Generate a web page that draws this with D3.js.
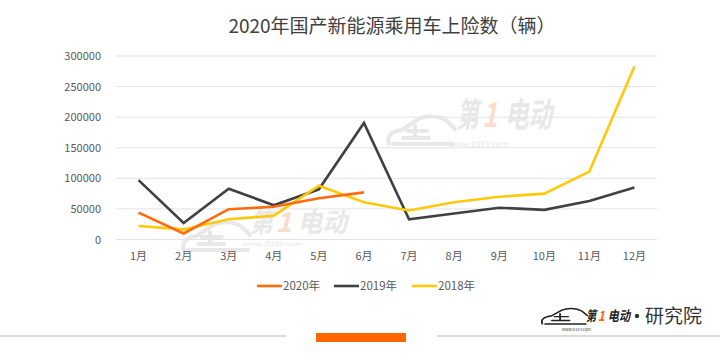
<!DOCTYPE html>
<html>
<head>
<meta charset="utf-8">
<script src="https://cdn.jsdelivr.net/npm/d3@7/dist/d3.min.js"></script>
<style>
  html, body { margin: 0; padding: 0; background: #fff; }
  svg { display: block; font-family: "Noto Sans CJK SC", "Noto Sans", sans-serif; }
</style>
</head>
<body>
<div id="chart"></div>
<script>
// months on the x axis
const months = ['1月', '2月', '3月', '4月', '5月', '6月', '7月', '8月', '9月', '10月', '11月', '12月'];

// series values
const sales2020 = [44000, 9800, 49500, 53500, 67500, 77000];
const sales2019 = [97000, 27000, 83000, 56000, 82000, 190500, 33000, 42500, 52000, 48500, 63000, 85000];
const sales2018 = [22000, 16500, 33000, 39000, 88000, 61000, 47500, 61000, 70000, 75000, 111000, 283000];

const yTicks = [0, 50000, 100000, 150000, 200000, 250000, 300000];

const seriesNames = ['2020年', '2019年', '2018年'];
const seriesColors = ['#ff6a0c', '#404242', '#ffc90a'];

const width = 720, height = 364;
const margin = { left: 116, right: 63, top: 56, bottom: 125 };

let svg = d3.select('#chart').append('svg')
    .attr('width', width)
    .attr('height', height);

// title
svg.append('text')
    .attr('x', 392)
    .attr('y', 33)
    .attr('text-anchor', 'middle')
    .attr('font-size', 19)
    .attr('fill', '#404040')
    .text('2020年国产新能源乘用车上险数（辆）');

let x = d3.scaleBand()
    .domain(months)
    .range([margin.left, width - margin.right]);

let y = d3.scaleLinear()
    .domain([0, 300000])
    .range([height - margin.bottom + 0.5, margin.top]);

// car outline in a 68x34 box
const carPath = 'M2,32 C-1,24 5,19 15,18 L30,8 C38,3 52,3 60,9 L68,17 M6,32 L66,32 ' +
    'M20,19 L40,19 M28,14 L28,26 M16,26 L42,26';

// brand word, one text per piece so the "1" can take its own colour;
// each piece is squeezed horizontally with a transform to its target width
function BrandText(g, tx, ty, fs, tw, fill, accent) {
    const parts = ['第', '1', '电动'];
    const gaps = [fs * 0.1, fs * 0.22];
    const inner = tw - gaps[0] - gaps[1];
    const widths = [inner * 0.26, inner * 0.18, inner * 0.56];
    let px = tx;
    parts.forEach(function (p, i) {
        let piece = g.append('g');
        let t = piece.append('text')
            .attr('x', 0)
            .attr('y', 0)
            .attr('font-size', fs)
            .attr('font-style', 'italic')
            .attr('font-weight', 'bold')
            .attr('fill', i == 1 ? accent : fill)
            .text(p);
        let natural = t.node().getComputedTextLength() || fs;
        piece.attr('transform', 'translate(' + px + ',' + ty + ') scale(' + (widths[i] / natural) + ',1)');
        px += widths[i] + (gaps[i] || 0);
    });
}

// faint watermark: car outline + brand text
function Watermark(cx, cy, tx, ty, fs, tw, wy, wfs) {
    let g = svg.append('g');
    g.append('path')
        .attr('d', carPath)
        .attr('transform', 'translate(' + cx + ',' + cy + ')')
        .attr('fill', 'none')
        .attr('stroke', '#e8e8e8')
        .attr('stroke-width', 4)
        .attr('stroke-linecap', 'round');
    BrandText(g, tx, ty, fs, tw, '#e8e8e8', '#fcdcca');
    g.append('text')
        .attr('x', tx - 8)
        .attr('y', wy)
        .attr('font-size', wfs)
        .attr('font-style', 'italic')
        .attr('fill', '#e6e6e6')
        .attr('textLength', tw * 0.62)
        .attr('lengthAdjust', 'spacingAndGlyphs')
        .text('www.D1EV.com');
}
Watermark(387, 112, 457, 127, 34, 95, 147, 8);
Watermark(182, 218, 250, 232, 27, 97, 246, 6);

// grid lines
svg.append('g')
    .selectAll('line')
    .data(yTicks)
    .enter()
    .append('line')
    .attr('x1', margin.left)
    .attr('x2', width - margin.right)
    .attr('y1', d => y(d))
    .attr('y2', d => y(d))
    .attr('stroke', '#e3e3e3')
    .attr('stroke-width', 1);

// y axis labels
let yAxis = svg.append('g')
    .attr('transform', 'translate(' + (margin.left - 12) + ',0)')
    .call(d3.axisLeft(y).tickValues(yTicks).tickSize(0).tickFormat(d3.format('d')));
yAxis.select('.domain').remove();
yAxis.selectAll('text')
    .attr('font-size', 11)
    .attr('fill', '#595959')
    .attr('font-family', '"Noto Sans CJK SC", sans-serif');

// x axis labels
let xAxis = svg.append('g')
    .attr('transform', 'translate(0,' + (height - margin.bottom + 10) + ')')
    .call(d3.axisBottom(x).tickSize(0));
xAxis.select('.domain').remove();
xAxis.selectAll('text')
    .attr('font-size', 11)
    .attr('fill', '#595959')
    .attr('font-family', '"Noto Sans CJK SC", sans-serif');

// lines
let line = d3.line()
    .x((d, i) => x(months[i]) + x.bandwidth() / 2)
    .y(d => y(d));

let allSeries = [sales2020, sales2019, sales2018];
// draw 2019 first, then 2018, then 2020 on top
[1, 2, 0].forEach(function (k) {
    svg.append('path')
        .datum(allSeries[k])
        .attr('d', line)
        .attr('fill', 'none')
        .attr('stroke', seriesColors[k])
        .attr('stroke-width', 2.6)
        .attr('stroke-linejoin', 'miter');
});

// legend
const legendX = [257, 334, 412];
let legend = svg.append('g');
seriesNames.forEach(function (name, i) {
    legend.append('line')
        .attr('x1', legendX[i])
        .attr('x2', legendX[i] + 25)
        .attr('y1', 286)
        .attr('y2', 286)
        .attr('stroke', seriesColors[i])
        .attr('stroke-width', 2.6);
    legend.append('text')
        .attr('x', legendX[i] + 26)
        .attr('y', 290)
        .attr('font-size', 11.5)
        .attr('fill', '#595959')
        .text(name);
});

// bottom decoration bar
svg.append('line')
    .attr('x1', 0).attr('x2', 286)
    .attr('y1', 336).attr('y2', 336)
    .attr('stroke', '#dadada').attr('stroke-width', 2);
svg.append('line')
    .attr('x1', 437).attr('x2', 720)
    .attr('y1', 336).attr('y2', 336)
    .attr('stroke', '#dadada').attr('stroke-width', 2);
svg.append('rect')
    .attr('x', 316).attr('y', 333)
    .attr('width', 90).attr('height', 9)
    .attr('fill', '#ff6600');

// brand logo bottom right
let logo = svg.append('g');
logo.append('path')
    .attr('d', carPath)
    .attr('transform', 'translate(541,306) scale(0.68,0.56)')
    .attr('fill', 'none')
    .attr('stroke', '#222')
    .attr('stroke-width', 2.6)
    .attr('stroke-linecap', 'round');
BrandText(logo, 586, 321, 14, 44, '#222', '#ff6600');
logo.append('text')
    .attr('x', 562)
    .attr('y', 331)
    .attr('font-size', 4)
    .attr('fill', '#444')
    .text('www.D1EV.com');
logo.append('circle')
    .attr('cx', 637).attr('cy', 316).attr('r', 2.2)
    .attr('fill', '#333');
logo.append('text')
    .attr('x', 645)
    .attr('y', 323)
    .attr('font-size', 19)
    .attr('fill', '#333')
    .text('研究院');
</script>
</body>
</html>
